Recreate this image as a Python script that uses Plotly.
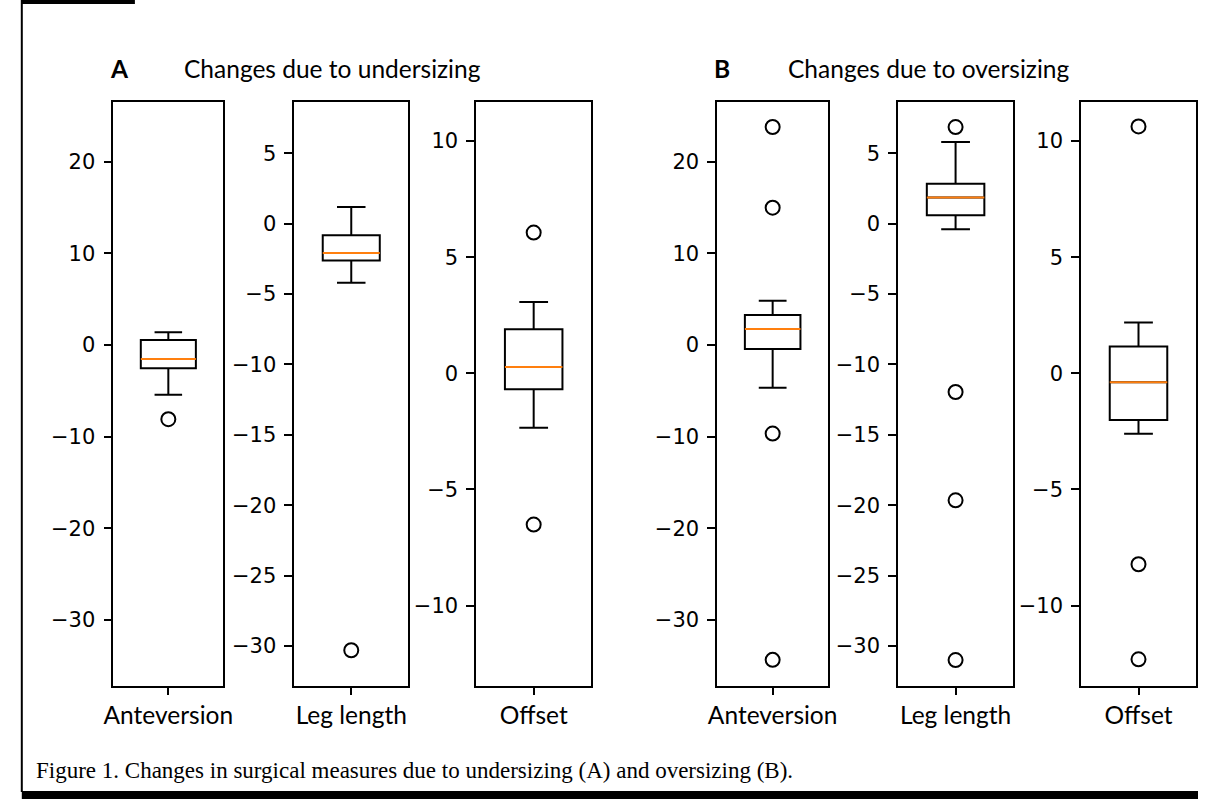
import plotly.graph_objects as go

W, H = 1208, 799

categories = ["Anteversion", "Leg length", "Offset"]

# Undersizing (A)
under_lowerfence = [-5.43, -4.19, -2.34]
under_q1 = [-2.53, -2.61, -0.69]
under_median = [-1.52, -2.09, 0.27]
under_q3 = [0.54, -0.83, 1.90]
under_upperfence = [1.38, 1.18, 3.07]
under_outliers = [[-8.1], [-30.3], [6.06, -6.51]]

# Oversizing (B)
over_lowerfence = [-4.67, -0.40, -2.60]
over_q1 = [-0.43, 0.59, -2.01]
over_median = [1.74, 1.85, -0.38]
over_q3 = [3.26, 2.84, 1.15]
over_upperfence = [4.82, 5.80, 2.19]
over_outliers = [[23.77, 14.97, -9.67, -34.35], [6.86, -11.96, -19.65, -31.0], [10.63, -8.22, -12.31]]

y_ranges = [[-37.2, 26.5], [-32.84, 8.64], [-13.46, 11.68]]
y_ticks = [[-30, -20, -10, 0, 10, 20], [-30, -25, -20, -15, -10, -5, 0, 5], [-10, -5, 0, 5, 10]]

panel_titles = ["Changes due to undersizing", "Changes due to oversizing"]
panel_letters = ["A", "B"]
caption = "Figure 1. Changes in surgical measures due to undersizing (A) and oversizing (B)."

# panel pixel extents (left, right)
px_x = [(105, 217), (289, 405), (474, 591), (719, 832), (903, 1020), (1089, 1206)]
py_top, py_bot = 102, 686

fig = go.Figure()

groups = [
    (under_lowerfence, under_q1, under_median, under_q3, under_upperfence, under_outliers),
    (over_lowerfence, over_q1, over_median, over_q3, over_upperfence, over_outliers),
]

layout = {}
idx = 0
for g, (lf, q1, med, q3, uf, outl) in enumerate(groups):
    for c in range(3):
        idx += 1
        xa = "x" if idx == 1 else f"x{idx}"
        ya = "y" if idx == 1 else f"y{idx}"
        cat = categories[c]
        fig.add_trace(go.Box(
            x=[cat], q1=[q1[c]], median=[med[c]], q3=[q3[c]],
            lowerfence=[lf[c]], upperfence=[uf[c]],
            boxpoints=False, width=0.5, whiskerwidth=0.5,
            fillcolor="rgba(0,0,0,0)", line=dict(color="black", width=2),
            xaxis=xa, yaxis=ya, showlegend=False, hoverinfo="skip"))
        fig.add_trace(go.Box(
            x=[cat], q1=[med[c]], median=[med[c]], q3=[med[c]],
            lowerfence=[med[c]], upperfence=[med[c]],
            boxpoints=False, width=0.5, whiskerwidth=0,
            fillcolor="rgba(0,0,0,0)", line=dict(color="#ff7f0e", width=2),
            xaxis=xa, yaxis=ya, showlegend=False, hoverinfo="skip"))
        fig.add_trace(go.Scatter(
            x=[cat] * len(outl[c]), y=outl[c], mode="markers",
            marker=dict(symbol="circle-open", size=14, color="black", line=dict(width=2)),
            xaxis=xa, yaxis=ya, showlegend=False, hoverinfo="skip"))
        l, r = px_x[idx - 1]
        xkey = "xaxis" if idx == 1 else f"xaxis{idx}"
        ykey = "yaxis" if idx == 1 else f"yaxis{idx}"
        layout[xkey] = dict(
            domain=[l / W, r / W], anchor=ya, type="category", range=[-0.5, 0.5],
            showline=True, linecolor="black", linewidth=1.5, mirror=True,
            ticks="outside", ticklen=7, tickwidth=1.5, tickcolor="black",
            showgrid=False, zeroline=False,
            tickfont=dict(family="Lato", size=24.5, color="black"))
        layout[ykey] = dict(
            domain=[1 - py_bot / H, 1 - py_top / H], anchor=xa,
            range=y_ranges[c], tickmode="array", tickvals=y_ticks[c],
            showline=True, linecolor="black", linewidth=1.5, mirror=True,
            ticks="outside", ticklen=8, tickwidth=1.5, tickcolor="black",
            ticklabelstandoff=4,
            showgrid=False, zeroline=False,
            tickfont=dict(family="DejaVu Sans", size=21, color="black"))

title_font = dict(family="Lato", size=24.5, color="black")
annotations = [
    dict(text="<b>" + panel_letters[0] + "</b>", x=100 / W, y=1 - 68 / H, xref="paper", yref="paper",
         xanchor="left", yanchor="middle", showarrow=False, font=title_font),
    dict(text=panel_titles[0], x=175 / W, y=1 - 68 / H, xref="paper", yref="paper",
         xanchor="left", yanchor="middle", showarrow=False, font=title_font),
    dict(text="<b>" + panel_letters[1] + "</b>", x=714 / W, y=1 - 68 / H, xref="paper", yref="paper",
         xanchor="left", yanchor="middle", showarrow=False, font=title_font),
    dict(text=panel_titles[1], x=789 / W, y=1 - 68 / H, xref="paper", yref="paper",
         xanchor="left", yanchor="middle", showarrow=False, font=title_font),
    dict(text=caption, x=24 / W, y=1 - 770 / H, xref="paper", yref="paper",
         xanchor="left", yanchor="middle", showarrow=False,
         font=dict(family="Liberation Serif", size=23, color="black")),
]

shapes = [
    dict(type="line", xref="paper", yref="paper", x0=12 / W, x1=12 / W, y0=1 - 792 / H, y1=1,
         line=dict(color="black", width=2)),
    dict(type="rect", xref="paper", yref="paper", x0=12 / W, x1=1, y0=0, y1=1 - 791 / H,
         fillcolor="black", line=dict(width=0)),
    dict(type="rect", xref="paper", yref="paper", x0=12 / W, x1=127 / W, y0=1 - 4 / H, y1=1,
         fillcolor="black", line=dict(width=0)),
]

fig.update_layout(
    width=W, height=H, margin=dict(l=0, r=0, t=0, b=0),
    paper_bgcolor="white", plot_bgcolor="white",
    boxmode="overlay", annotations=annotations, shapes=shapes,
    **layout)

fig.write_html("out.html")
